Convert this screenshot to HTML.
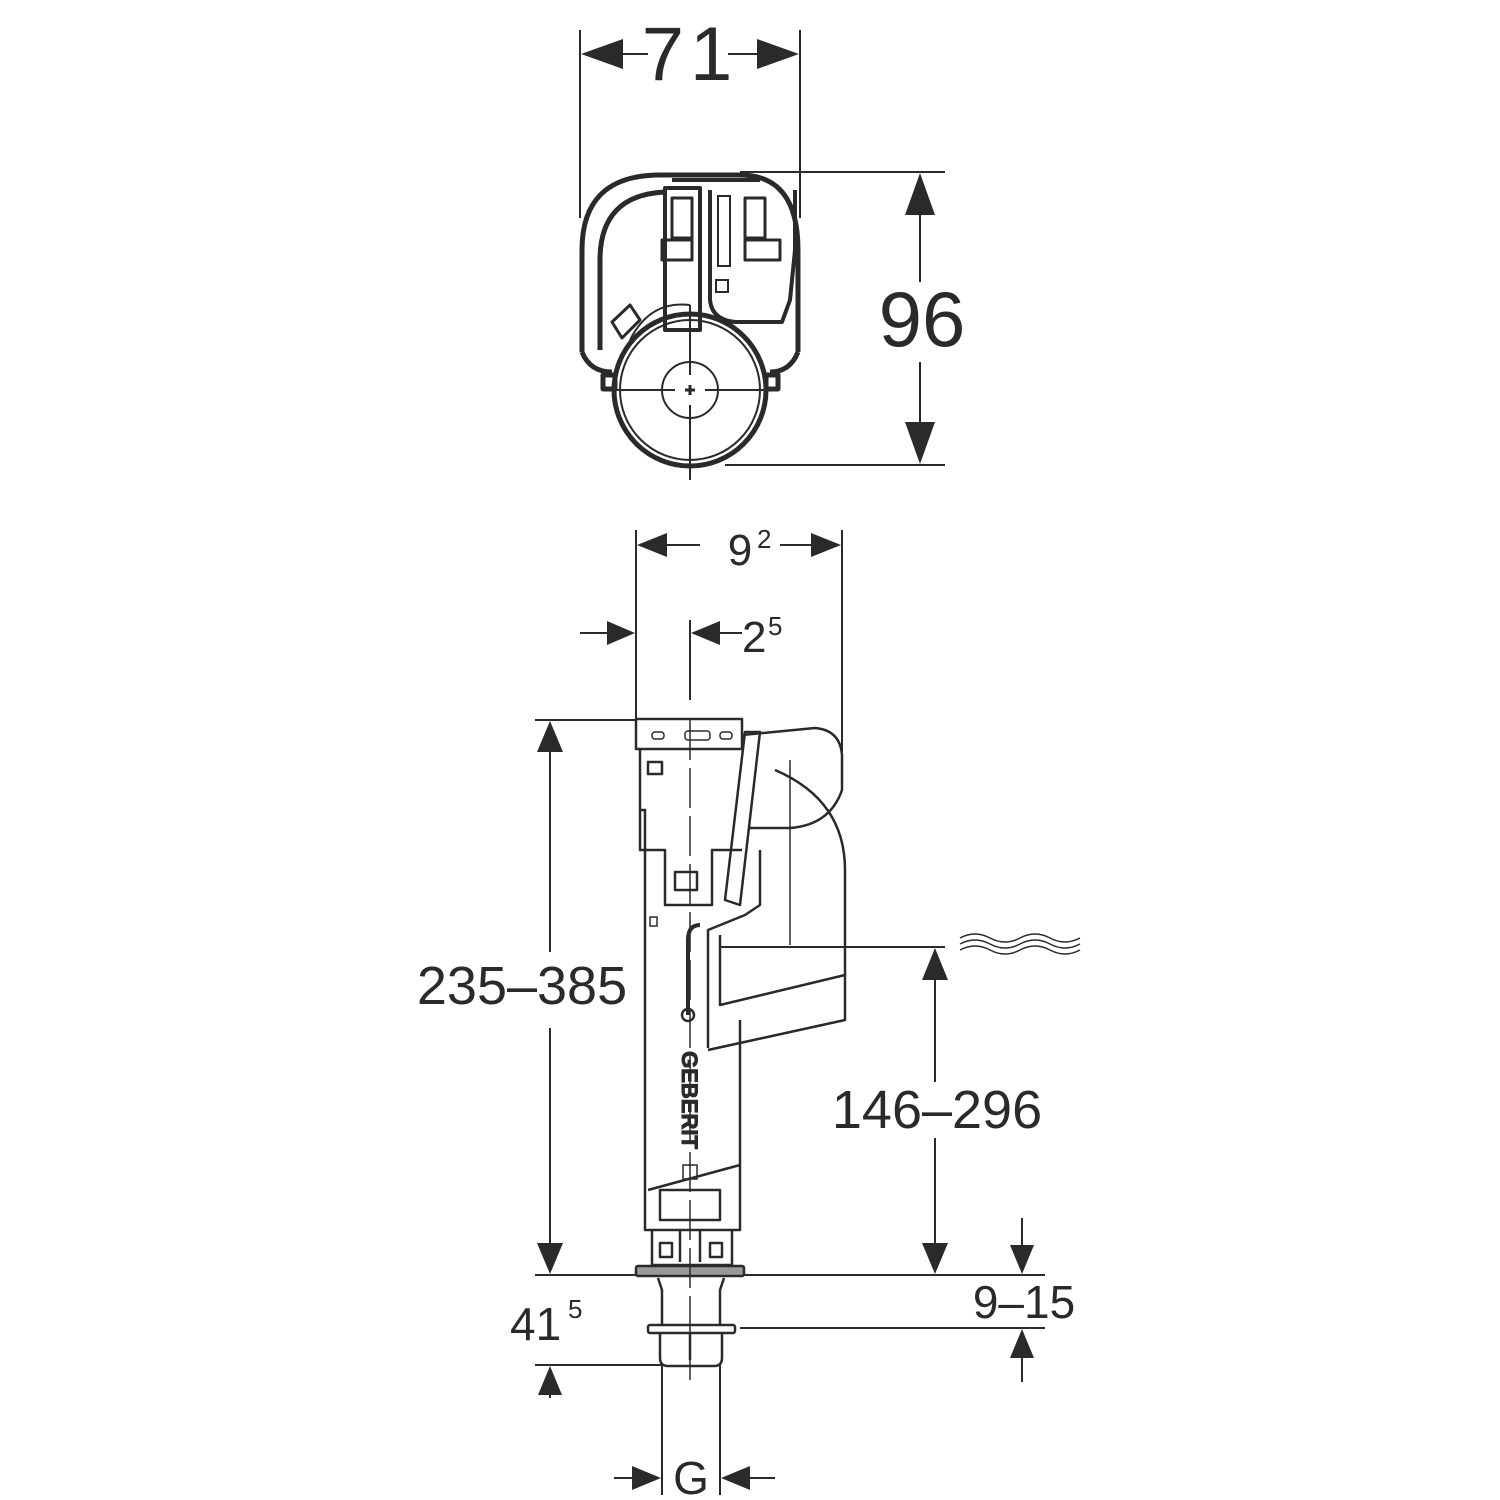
<!DOCTYPE html>
<html><head><meta charset="utf-8"><style>
html,body{margin:0;padding:0;background:#fff}
svg{display:block}
text{font-family:"Liberation Sans",sans-serif;fill:#2a2a2a}
</style></head><body>
<svg width="1500" height="1500" viewBox="0 0 1500 1500" xmlns="http://www.w3.org/2000/svg">
<g stroke="#2a2a2a" stroke-width="2" fill="none">
<line x1="580" y1="30" x2="580" y2="218"/>
<line x1="800" y1="30" x2="800" y2="218"/>
<line x1="620" y1="54" x2="648" y2="54"/>
<line x1="728" y1="54" x2="760" y2="54"/>
<line x1="740" y1="172" x2="945" y2="172"/>
<line x1="725" y1="465" x2="945" y2="465"/>
<line x1="920" y1="215" x2="920" y2="282"/>
<line x1="920" y1="362" x2="920" y2="425"/>
</g>
<g fill="#2a2a2a">
<polygon points="581,54 623,39 623,69"/>
<polygon points="799,54 757,39 757,69"/>
<polygon points="920,173 905,215 935,215"/>
<polygon points="920,464 905,422 935,422"/>
</g>
<text x="690" y="80" font-size="76" text-anchor="middle" letter-spacing="6">71</text>
<text x="922" y="346" font-size="78" text-anchor="middle">96</text>

<g stroke="#2a2a2a" stroke-width="5" fill="none" stroke-linejoin="round">
<path d="M582,352 L582,250 Q582,175 660,175 L740,175 Q798,175 798,250 L798,352"/>
<path d="M600,350 L600,260 Q600,195 665,192"/>
<path d="M582,352 Q590,372 612,372"/>
<path d="M798,352 Q790,372 770,372"/>
<rect x="603" y="375" width="12" height="14"/>
<rect x="766" y="375" width="12" height="14"/>
<circle cx="690" cy="390" r="76"/>
<path d="M665,188 L665,330 L700,330 L700,188 Z" stroke-width="4"/>
<path d="M710,190 L710,300 Q712,320 735,322 L782,322 L790,300 L795,250 L795,190" stroke-width="4"/>
<path d="M672,180 L760,180" stroke-width="4"/>
<rect x="672" y="198" width="20" height="40" stroke-width="3"/>
<rect x="745" y="198" width="20" height="40" stroke-width="3"/>
<rect x="662" y="240" width="30" height="20" stroke-width="3"/>
<rect x="745" y="240" width="35" height="20" stroke-width="3"/>
<path d="M612,322 L630,305 L640,320 L622,338 Z" stroke-width="3"/>
</g>
<g stroke="#2a2a2a" stroke-width="2" fill="none">
<circle cx="690" cy="390" r="70"/>
<circle cx="690" cy="390" r="28"/>
<line x1="610" y1="390" x2="675" y2="390"/>
<line x1="705" y1="390" x2="770" y2="390"/>
<line x1="690" y1="305" x2="690" y2="375"/>
<line x1="690" y1="405" x2="690" y2="480"/>
<line x1="685" y1="390" x2="695" y2="390" stroke-width="3"/>
<line x1="690" y1="385" x2="690" y2="395" stroke-width="3"/>
<path d="M630,340 Q650,300 690,305"/>
<rect x="718" y="196" width="12" height="70"/>
<rect x="716" y="280" width="12" height="12"/>
</g>

<g stroke="#2a2a2a" stroke-width="2" fill="none">
<line x1="636" y1="530" x2="636" y2="720"/>
<line x1="842" y1="530" x2="842" y2="760"/>
<line x1="665" y1="545" x2="700" y2="545"/>
<line x1="780" y1="545" x2="812" y2="545"/>
<line x1="580" y1="633" x2="610" y2="633"/>
<line x1="720" y1="633" x2="742" y2="633"/>
<line x1="690" y1="620" x2="690" y2="700"/>
<line x1="535" y1="720" x2="636" y2="720"/>
<line x1="535" y1="1275" x2="640" y2="1275"/>
<line x1="550" y1="750" x2="550" y2="952"/>
<line x1="550" y1="1028" x2="550" y2="1245"/>
<line x1="720" y1="947" x2="945" y2="947"/>
<line x1="935" y1="978" x2="935" y2="1082"/>
<line x1="935" y1="1138" x2="935" y2="1245"/>
<line x1="740" y1="1275" x2="1045" y2="1275"/>
<line x1="740" y1="1328" x2="1045" y2="1328"/>
<line x1="1022" y1="1218" x2="1022" y2="1248"/>
<line x1="1022" y1="1355" x2="1022" y2="1382"/>
<line x1="535" y1="1365" x2="665" y2="1365"/>
<line x1="550" y1="1392" x2="550" y2="1398"/>
<line x1="662" y1="1365" x2="662" y2="1495"/>
<line x1="720" y1="1365" x2="720" y2="1495"/>
<line x1="614" y1="1478" x2="635" y2="1478"/>
<line x1="747" y1="1478" x2="775" y2="1478"/>
<path d="M960,938 q15,-8 30,0 t30,0 t30,0 t30,0" stroke-width="1.5"/>
<path d="M960,944 q15,-8 30,0 t30,0 t30,0 t30,0" stroke-width="1.5"/>
<path d="M960,950 q15,-8 30,0 t30,0 t30,0 t30,0" stroke-width="1.5"/>
</g>
<g fill="#2a2a2a">
<polygon points="637,545 667,533 667,557"/>
<polygon points="841,545 811,533 811,557"/>
<polygon points="635,633 607,621 607,645"/>
<polygon points="691,633 720,621 720,645"/>
<polygon points="550,721 537,752 563,752"/>
<polygon points="550,1274 537,1243 563,1243"/>
<polygon points="935,948 922,980 948,980"/>
<polygon points="935,1274 922,1243 948,1243"/>
<polygon points="1022,1274 1010,1245 1034,1245"/>
<polygon points="1022,1329 1010,1358 1034,1358"/>
<polygon points="550,1366 538,1395 562,1395"/>
<polygon points="661,1478 632,1466 632,1490"/>
<polygon points="721,1478 750,1466 750,1490"/>
</g>
<text x="740" y="565" font-size="44" text-anchor="middle">9</text>
<text x="757" y="548" font-size="26">2</text>
<text x="742" y="652" font-size="44">2</text>
<text x="768" y="635" font-size="26">5</text>
<text x="522" y="1004" font-size="54" text-anchor="middle">235–385</text>
<text x="937" y="1128" font-size="54" text-anchor="middle">146–296</text>
<text x="1024" y="1318" font-size="46" text-anchor="middle">9–15</text>
<text x="510" y="1340" font-size="46">41</text>
<text x="568" y="1318" font-size="26">5</text>
<text x="691" y="1494" font-size="46" text-anchor="middle">G</text>

<g stroke="#2a2a2a" stroke-width="2.5" fill="none" stroke-linejoin="round">
<rect x="636" y="719" width="106" height="30"/>
<path d="M640,749 L640,810 L645,810 L645,1230 L740,1230 L740,1020"/>
<path d="M640,810 L640,850 L665,850 L665,905 L712,905 L712,850 L742,850"/>
<path d="M648,1190 L740,1165"/>
<path d="M708,1048 L708,930 L745,915 L760,905 L760,850"/>
<path d="M720,935 L720,1005 L845,975 L845,870 Q845,800 775,770"/>
<path d="M708,1050 L845,1020 L845,975"/>
<path d="M742,735 L815,728 Q840,730 842,755 L842,790 Q830,825 790,828 L750,828"/>
<path d="M745,732 L760,732 L740,905 L725,900 Z"/>
<line x1="790" y1="760" x2="790" y2="945" stroke-width="1.5"/>
<path d="M700,925 Q688,925 688,940 L688,1015" stroke-width="4"/>
<circle cx="688" cy="1015" r="6"/>
<rect x="675" y="872" width="22" height="18"/>
<rect x="648" y="762" width="14" height="12"/>
<rect x="660" y="1190" width="60" height="30"/>
<path d="M652,1230 L652,1265 L732,1265 L732,1230"/>
<rect x="660" y="1243" width="12" height="14"/>
<rect x="710" y="1243" width="12" height="14"/>
<path d="M680,1230 L680,1262 M700,1230 L700,1262"/>
<rect x="636" y="1266" width="108" height="10" rx="2" fill="#999"/>
<path d="M658,1278 L662,1290 L662,1325 M724,1278 L720,1290 L720,1325"/>
<rect x="648" y="1325" width="87" height="8" rx="2"/>
<path d="M660,1333 L660,1358 Q660,1366 668,1366 L714,1366 Q722,1366 722,1358 L722,1333"/>
<line x1="690" y1="1333" x2="690" y2="1360"/>
</g>
<g stroke="#2a2a2a" stroke-width="1.5" fill="none">
<line x1="690" y1="720" x2="690" y2="1380" stroke-dasharray="40,8"/>
<rect x="652" y="732" width="12" height="7" rx="3"/>
<rect x="685" y="731" width="25" height="9" rx="3"/>
<rect x="720" y="732" width="12" height="7" rx="3"/>
<rect x="650" y="917" width="7" height="9"/>
<rect x="683" y="1165" width="14" height="14"/>
</g>
<text x="690" y="1100" font-size="22" font-weight="bold" transform="rotate(90 690 1100)" text-anchor="middle" dy="8" fill="#fff" stroke="#2a2a2a" stroke-width="1">GEBERIT</text>
</svg>
</body></html>
